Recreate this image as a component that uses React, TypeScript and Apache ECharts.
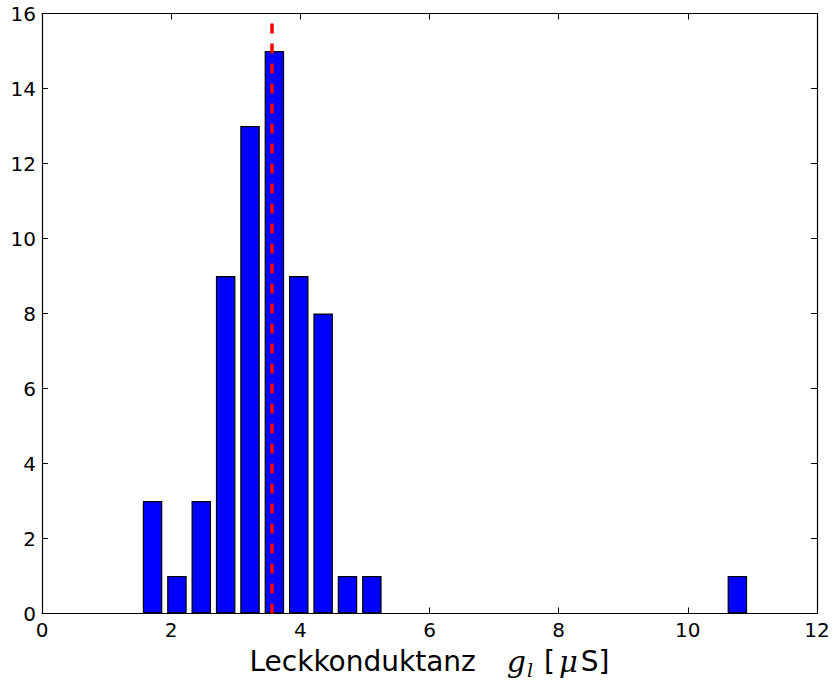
import React, { useEffect, useRef } from "react";
import * as echarts from "echarts";

// Histogram data (25 equal bins)
const binStart = 1.523;
const binWidth = 0.3773;
const counts = [3, 1, 3, 9, 13, 15, 9, 8, 1, 1, 0, 0, 0, 0, 0, 0, 0, 0, 0, 0, 0, 0, 0, 0, 1];
const meanValue = 3.55;
const xTicks = { min: 0, max: 12, interval: 2 };
const yTicks = { min: 0, max: 16, interval: 2 };
const xLabelText = "Leckkonduktanz";

const FONT = "DejaVu Sans";
const SERIF = "DejaVu Serif";

export default function App() {
  const ref = useRef<HTMLDivElement>(null);
  useEffect(() => {
    if (!ref.current) return;
    const chart = echarts.init(ref.current, null, { renderer: "svg" });
    const barData = counts
      .map((c, i) => [binStart + (i + 0.5) * binWidth, c])
      .filter((d) => d[1] > 0);
    const axisLine = { show: true, onZero: false, lineStyle: { color: "#000", width: 1.2 } };
    const axisTick = { show: true, inside: true, length: 6, lineStyle: { color: "#000", width: 1 } };
    const LH = 36;
    chart.setOption({
      animation: false,
      backgroundColor: "#fff",
      grid: {
        left: 42,
        right: 16,
        top: 13.5,
        bottom: 66.5,
        containLabel: false,
        outerBoundsMode: "none",
      },
      xAxis: [
        {
          type: "value",
          position: "bottom",
          ...xTicks,
          axisLine,
          axisTick,
          splitLine: { show: false },
          axisLabel: { color: "#000", fontSize: 20, fontFamily: FONT, margin: 6 },
          name: `{t|${xLabelText}}{g|g}{sub|l}{b|[}{i|μ}{t|S]}`,
          nameLocation: "middle",
          nameGap: 30,
          nameTextStyle: {
            color: "#000",
            fontSize: 28,
            fontFamily: FONT,
            verticalAlign: "top",
            rich: {
              t: { fontFamily: FONT, fontSize: 28, color: "#000", lineHeight: LH },
              b: { fontFamily: FONT, fontSize: 28, color: "#000", lineHeight: LH, padding: [0, 0, 0, 11] },
              g: { fontFamily: SERIF, fontStyle: "italic", fontSize: 30, color: "#000", lineHeight: LH, padding: [0, 1, 0, 31] },
              i: { fontFamily: SERIF, fontStyle: "italic", fontSize: 29, color: "#000", lineHeight: LH, padding: [0, 3, 0, 4] },
              sub: { fontFamily: SERIF, fontStyle: "italic", fontSize: 19, color: "#000", lineHeight: 23, verticalAlign: "bottom" },
            },
          },
        },
        {
          type: "value",
          position: "top",
          ...xTicks,
          axisLine,
          axisTick,
          axisLabel: { show: false },
          splitLine: { show: false },
        },
      ],
      yAxis: [
        {
          type: "value",
          position: "left",
          ...yTicks,
          axisLine,
          axisTick,
          splitLine: { show: false },
          axisLabel: { color: "#000", fontSize: 20, fontFamily: FONT, margin: 6 },
        },
        {
          type: "value",
          position: "right",
          ...yTicks,
          axisLine,
          axisTick,
          axisLabel: { show: false },
          splitLine: { show: false },
        },
      ],
      series: [
        {
          type: "bar",
          xAxisIndex: 0,
          yAxisIndex: 0,
          data: barData,
          barWidth: 19.5,
          itemStyle: { color: "#0000ff", borderColor: "#000", borderWidth: 1.2 },
          markLine: {
            silent: true,
            symbol: "none",
            label: { show: false },
            lineStyle: { color: "#ff0000", width: 3.5, type: [10, 10], opacity: 1 },
            data: [{ xAxis: meanValue }],
            z: 10,
          },
        },
      ],
    });
    return () => chart.dispose();
  }, []);
  return (
    <div
      ref={ref}
      style={{ position: "fixed", left: 0, top: 0, width: 833, height: 680 }}
    />
  );
}
